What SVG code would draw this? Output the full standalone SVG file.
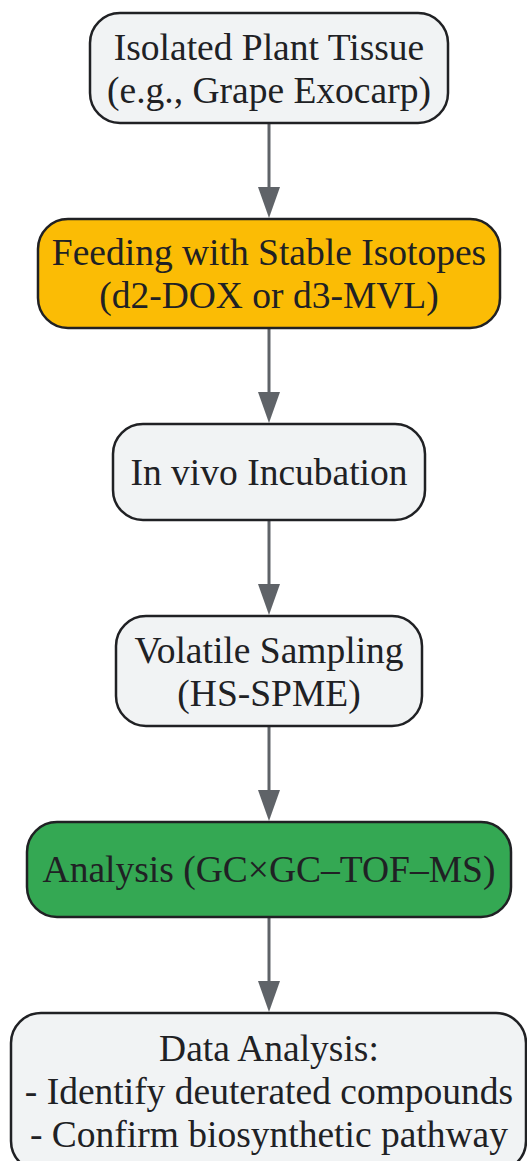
<svg xmlns="http://www.w3.org/2000/svg" width="527" height="1161" viewBox="0 0 527 1161">
<style>
.node rect{stroke:#202124;stroke-width:2.5}
.plain rect{fill:#F1F3F4}
.orange rect{fill:#FBBC05}
.green rect{fill:#34A853}
text{font-family:"Liberation Serif","Times New Roman",serif;font-size:37.5px;fill:#202124;text-anchor:middle}
.edge{stroke:#5F6368;stroke-width:3;fill:none}
.head{fill:#5F6368}
</style>
<rect width="527" height="1161" fill="#FFFFFF"/>
<g id="connectors">
<line class="edge" x1="269" y1="124" x2="269" y2="188"/><path class="head" d="M258,187 L280,187 L269,218 Z"/>
<line class="edge" x1="269" y1="329" x2="269" y2="393"/><path class="head" d="M258,392 L280,392 L269,423 Z"/>
<line class="edge" x1="269" y1="521" x2="269" y2="585"/><path class="head" d="M258,584 L280,584 L269,615 Z"/>
<line class="edge" x1="269" y1="727" x2="269" y2="791"/><path class="head" d="M258,790 L280,790 L269,821 Z"/>
<line class="edge" x1="269" y1="918" x2="269" y2="982"/><path class="head" d="M258,981 L280,981 L269,1012 Z"/>
</g>
<g id="node1" class="node plain">
<rect x="90" y="13" width="358" height="110" rx="30"/>
<text x="269" y="60">Isolated Plant Tissue</text>
<text x="269" y="103">(e.g., Grape Exocarp)</text>
</g>
<g id="node2" class="node orange">
<rect x="38" y="219" width="462" height="109" rx="30"/>
<text x="269" y="265">Feeding with Stable Isotopes</text>
<text x="269" y="308">(d2-DOX or d3-MVL)</text>
</g>
<g id="node3" class="node plain">
<rect x="113" y="424" width="312" height="96" rx="30"/>
<text x="269" y="485">In vivo Incubation</text>
</g>
<g id="node4" class="node plain">
<rect x="116" y="616" width="306" height="110" rx="30"/>
<text x="269" y="663">Volatile Sampling</text>
<text x="269" y="706">(HS-SPME)</text>
</g>
<g id="node5" class="node green">
<rect x="27" y="822" width="484" height="95" rx="30"/>
<text x="269" y="882">Analysis (GC×GC–TOF–MS)</text>
</g>
<g id="node6" class="node plain">
<rect x="11" y="1013" width="515" height="158" rx="30"/>
<text x="269" y="1061">Data Analysis:</text>
<text x="269" y="1104">- Identify deuterated compounds</text>
<text x="269" y="1147">- Confirm biosynthetic pathway</text>
</g>
</svg>
